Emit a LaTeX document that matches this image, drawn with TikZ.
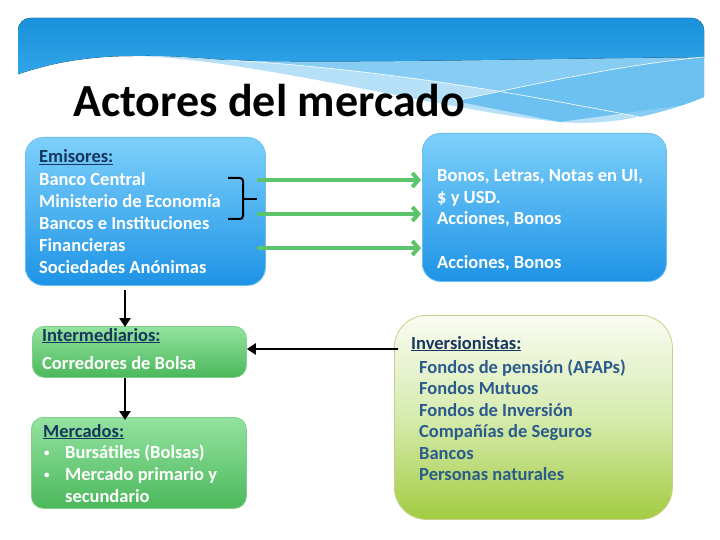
\documentclass[tikz,border=0pt]{standalone}
\usepackage{fontspec}
\setmainfont{Carlito}
\usetikzlibrary{arrows.meta}
\definecolor{navy}{HTML}{17375E}
\definecolor{invtext}{HTML}{2B5B8C}
\definecolor{arrgreen}{HTML}{5CC46C}
\definecolor{bluetop}{HTML}{7DD0FA}
\definecolor{bluebot}{HTML}{1E93E6}
\definecolor{blueedge}{HTML}{6CC0EE}
\definecolor{greentop}{HTML}{94E3A0}
\definecolor{greenbot}{HTML}{4BB85B}
\definecolor{greenedge}{HTML}{7FD08A}
\definecolor{invtop}{HTML}{FAFCF3}
\definecolor{invmid}{HTML}{D6EBAE}
\definecolor{invbot}{HTML}{A3CC42}
\definecolor{invedge}{HTML}{C9CF86}
\definecolor{bandark}{HTML}{128AD6}
\definecolor{banmid}{HTML}{33A7EA}
\definecolor{banlight}{HTML}{86CCF3}
\definecolor{banpale}{HTML}{B6E0F8}
\tikzset{
  bluebox/.style={draw=blueedge, line width=0.8pt, top color=bluetop, bottom color=bluebot, rounded corners=18pt, anchor=north west, inner sep=0pt},
  greenbox/.style={draw=greenedge, line width=0.8pt, top color=greentop, bottom color=greenbot, rounded corners=12pt, anchor=north west, inner sep=0pt},
  invbox/.style={draw=invedge, line width=0.8pt, top color=invtop, bottom color=invbot, middle color=invmid, rounded corners=32pt, anchor=north west, inner sep=0pt},
  bodytext/.style={font=\fontsize{18.5}{21}\selectfont\bfseries, anchor=base west, inner sep=0pt},
  whitetext/.style={bodytext, text=white},
  headtext/.style={bodytext, text=navy},
  invitem/.style={bodytext, text=invtext},
  bulletmark/.style={font=\fontsize{11}{11}\selectfont\bfseries, text=white, anchor=base west, inner sep=0pt},
  blackarrow/.style={line width=2.6pt, -{Triangle[length=9pt,width=11pt]}},
  greenarrow/.style={draw=arrgreen, line width=4.5pt, -{Straight Barb[length=6pt,width=14pt,line width=4pt]}},
}
\begin{document}
\begin{tikzpicture}[x=1pt,y=-1pt]
\useasboundingbox (0,0) rectangle (720,540);
\fill[white] (0,0) rectangle (720,540);
% ---- banner ----
\begin{scope}
\clip (18,75) -- (18,30) arc[start angle=180,end angle=270,radius=12] -- (692,18) arc[start angle=270,end angle=360,radius=12] -- (704,97)
  .. controls (660,115) and (610,126) .. (560,122)
  .. controls (450,112) and (250,58) .. (133,56)
  .. controls (80,56) and (40,66) .. (18,75) -- cycle;
\fill[banpale] (0,0) rectangle (720,180);
\fill[banlight] (227,60) .. controls (400,70) and (550,100) .. (640,117) -- (720,117) -- (720,55) -- cycle;
\fill[banlight!70!banmid] (455,101) .. controls (530,85) and (620,65) .. (720,55) -- (720,100) -- (560,122) -- cycle;
\fill[top color=bandark, bottom color=banmid] (0,0) -- (720,0) -- (720,57)
  .. controls (560,58) and (330,64) .. (227,60)
  .. controls (190,57) and (160,55) .. (133,56)
  .. controls (80,56) and (40,66) .. (0,80) -- cycle;
\draw[white, line width=0.6pt] (227,60) .. controls (400,70) and (550,100) .. (640,117);
\draw[white, line width=0.6pt] (455,101) .. controls (530,85) and (620,65) .. (704,57);
\end{scope}
\node[font=\fontsize{46}{50}\selectfont\bfseries, anchor=base west, inner sep=0pt] (title) at (73,117) {Actores del mercado};
% ---- boxes ----
\node[bluebox, minimum width=240pt, minimum height=148pt] (emi) at (25,137) {};
\node[bluebox, minimum width=244pt, minimum height=148pt] (bonos) at (422,133) {};
\node[greenbox, minimum width=214pt, minimum height=51pt] (inter) at (32,326) {};
\node[greenbox, minimum width=215pt, minimum height=91pt] (merc) at (31,417) {};
\node[invbox, minimum width=278pt, minimum height=204pt] (inv) at (394,315) {};
% ---- Emisores text ----
\node[headtext] (emih) at (39,163) {\underline{Emisores:}};
\foreach \t [count=\i] in {Banco Central, Ministerio de Economía, Bancos e Instituciones, Financieras, Sociedades Anónimas}
  \node[whitetext] (e\i) at (39,{164+21.8*\i}) {\t};
% ---- right blue box text ----
\node[whitetext] (b1) at (437,182) {Bonos, Letras, Notas en UI,};
\node[whitetext] (b2) at (437,203.5) {\$ y USD.};
\node[whitetext] (b3) at (437,225) {Acciones, Bonos};
\node[whitetext] (b4) at (437,268) {Acciones, Bonos};
% ---- Intermediarios ----
\node[headtext] (interh) at (42,341) {\underline{Intermediarios:}};
\node[whitetext] (i1) at (42,369) {Corredores de Bolsa};
% ---- Mercados ----
\node[headtext] (merch) at (43,437) {\underline{Mercados:}};
\node[bulletmark] (m1b) at (44,456) {•};
\node[whitetext] (m1) at (65,458) {Bursátiles (Bolsas)};
\node[bulletmark] (m2b) at (44,478) {•};
\node[whitetext] (m2) at (65,480) {Mercado primario y};
\node[whitetext] (m3) at (65,502) {secundario};
% ---- Inversionistas ----
\node[headtext] (invh) at (411,349) {\underline{Inversionistas:}};
\foreach \t [count=\i] in {Fondos de pensión (AFAPs), Fondos Mutuos, Fondos de Inversión, Compañías de Seguros, Bancos, Personas naturales}
  \node[invitem] (v\i) at (419,{351.5+21.5*\i}) {\t};
% ---- bracket ----
\draw[line width=2pt, rounded corners=3pt] (228,178) -- (243,178) -- (243,199) -- (243,219) -- (228,219);
\coordinate (brk) at (243,199);
\coordinate (brkt) at (257,199);
\draw[line width=2pt] (brk) -- (brkt);
% ---- green arrows ----
\coordinate (g1) at (257,180);
\coordinate (g2) at (257,214);
\coordinate (g3) at (257,248);
\foreach \g in {g1,g2,g3}
  \draw[greenarrow] (\g) -- ([xshift=-1pt]\g -| bonos.west);
% ---- black arrows ----
\coordinate (v1s) at ([xshift=100pt]emi.south west);
\draw[blackarrow] ([yshift=-4pt]v1s) -- ([yshift=-1pt]v1s |- inter.north);
\coordinate (v2s) at ([xshift=93pt]inter.south west);
\draw[blackarrow] (v2s) -- ([yshift=-3pt]v2s |- merc.north);
\coordinate (hs) at ([xshift=4pt]inv.west |- 0,349);
\draw[blackarrow] (hs) -- (hs -| inter.east);
\end{tikzpicture}
\end{document}
